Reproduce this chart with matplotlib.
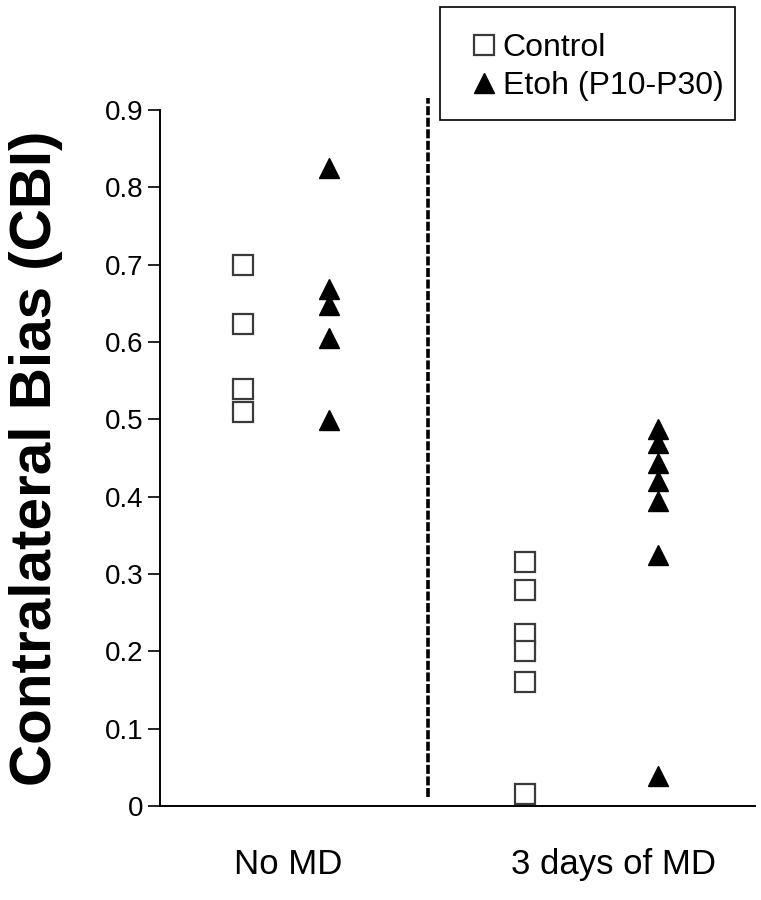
import numpy as np
import matplotlib
matplotlib.use("Agg")
import matplotlib.pyplot as plt
from matplotlib.patches import Rectangle

plt.rcParams['font.family'] = ['Liberation Sans', 'DejaVu Sans']

groups = ["No MD", "3 days of MD"]
ctrl_nomd = [0.70, 0.623, 0.539, 0.509]
etoh_nomd = [0.825, 0.668, 0.648, 0.605, 0.499]
ctrl_md = [0.316, 0.279, 0.223, 0.200, 0.161, 0.016]
etoh_md = [0.488, 0.469, 0.443, 0.420, 0.395, 0.325, 0.039]
yticks = [0, 0.1, 0.2, 0.3, 0.4, 0.5, 0.6, 0.7, 0.8, 0.9]

fig = plt.figure(figsize=(7.61, 9), dpi=100)
ax = fig.add_axes([0.2102, 0.1044, 0.782, 0.7734])

gx = [1, 2]
ctrl_off = [-0.138, -0.273]
etoh_off = [0.126, 0.135]

sq = dict(marker='s', ms=14, mfc='white', mec='#3a3a3a', mew=1.6, ls='none')
tri = dict(marker='^', ms=15, mfc='black', mec='black', ls='none')

ax.plot([gx[0] + ctrl_off[0]] * len(ctrl_nomd), ctrl_nomd, label='Control', **sq)
ax.plot([gx[0] + etoh_off[0]] * len(etoh_nomd), etoh_nomd, label='Etoh (P10-P30)', **tri)
ax.plot([gx[1] + ctrl_off[1]] * len(ctrl_md), ctrl_md, **sq)
ax.plot([gx[1] + etoh_off[1]] * len(etoh_md), etoh_md, **tri)

# divider between the two conditions
ax.axvline(1.429, ymin=0.013, ymax=1.017, color='black', lw=2.6,
           ls=(0, (2.5, 0.7)), clip_on=False)

ax.set_xlim(0.607, 2.433)
ax.set_ylim(0, 0.9)
ax.set_yticks(yticks)
ax.set_yticklabels(['0'] + ['%.1f' % v for v in yticks[1:]])
ax.set_xticks(gx)
ax.set_xticklabels(groups)
ax.tick_params(axis='x', length=0, pad=30, labelsize=25)
ax.tick_params(axis='y', length=9, width=1.2, pad=3, labelsize=20, direction='out')
ax.spines['top'].set_visible(False)
ax.spines['right'].set_visible(False)
ax.spines['left'].set_linewidth(1.4)
ax.spines['bottom'].set_linewidth(1.4)

ax.set_ylabel('Contralateral Bias (CBI)', fontsize=42, fontweight='bold', labelpad=30)

leg = ax.legend(loc='upper left', bbox_to_anchor=(0.6165, 0.963),
                bbox_transform=fig.transFigure, fontsize=23, frameon=False,
                handletextpad=0.15, handlelength=0.9, borderpad=0.0,
                labelspacing=0.25, borderaxespad=0)
# legend box drawn separately (tighter on the right than on the left)
fig.patches.append(Rectangle((0.578, 0.867), 0.388, 0.125, transform=fig.transFigure,
                             fill=False, edgecolor='black', lw=1.2))

fig.savefig('out.png', dpi=100, facecolor='white')
